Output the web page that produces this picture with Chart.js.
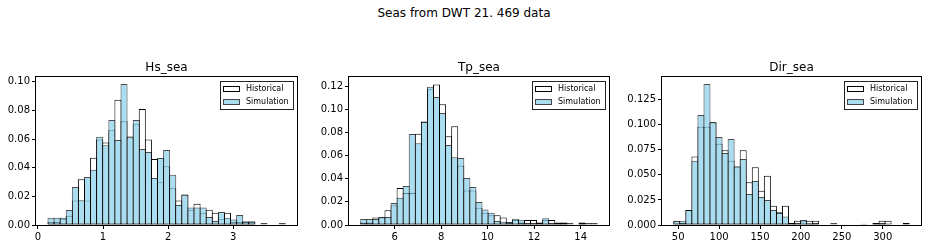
<!DOCTYPE html>
<html>
<head>
<meta charset="utf-8">
<script src="https://cdn.jsdelivr.net/npm/chart.js@4.4.0/dist/chart.umd.min.js"></script>
<style>
  html, body { margin: 0; padding: 0; background: #fff; overflow: hidden; }
  #wrap { position: relative; width: 928px; height: 249px; }
  #wrap canvas { position: absolute; top: 0; }
  #suptitle { position: absolute; left: 0; top: 6px; width: 928px; text-align: center;
              font: 12px "DejaVu Sans"; line-height: 14px; color: #000; }
</style>
</head>
<body>
<div id="wrap">
  <div id="suptitle">Seas from DWT 21. 469 data</div>
  <canvas id="c1" width="304" height="249" style="left:0px"></canvas>
  <canvas id="c2" width="303" height="249" style="left:313px"></canvas>
  <canvas id="c3" width="302" height="249" style="left:626px"></canvas>
</div>
<script>
// 39 bins per panel, first and last bin edge
const hsBins = [0.154, 3.800];
const tpBins = [4.543, 14.715];
const dirBins = [44.6, 332.4];

// relative frequencies
const hsHist = [0.0021,0.0021,0.0043,0.0064,0.0171,0.0320,0.0171,0.0469,0.0597,0.0576,
                0.0661,0.0874,0.0725,0.0618,0.0704,0.0810,0.0597,0.0460,0.0298,0.0410,
                0.0256,0.0171,0.0213,0.0107,0.0149,0.0085,0.0107,0.0085,0.0043,0.0085,
                0.0021,0.0021,0.0021,0.0021,0,0,0,0,0];
const hsSim = [0.0050,0.0050,0.0050,0.0105,0.0265,0.0172,0.0335,0.0386,0.0616,0.0556,
               0.0733,0.0593,0.0984,0.0612,0.0733,0.0530,0.0510,0.0328,0.0467,0.0523,
               0.0351,0.0140,0.0212,0.0123,0.0123,0.0123,0.0056,0.0028,0.0091,0.0050,
               0.0038,0.0070,0.0026,0.0026,0,0.0014,0,0,0.0014];

const tpHist = [0.0021,0.0021,0.0064,0.0064,0.0128,0.0171,0.0320,0.0277,0.0277,0.0789,
                0.0896,0.1173,0.1215,0.1045,0.0768,0.0853,0.0512,0.0298,0.0298,0.0149,
                0.0107,0.0085,0.0085,0.0064,0.0021,0.0043,0.0021,0.0043,0.0043,0.0021,
                0.0043,0.0043,0.0021,0.0021,0,0,0.0021,0,0];
const tpSim = [0.0052,0.0052,0.0052,0.0069,0.0069,0.0190,0.0235,0.0337,0.0787,0.0708,
               0.0890,0.1195,0.1108,0.0969,0.0692,0.0585,0.0580,0.0407,0.0329,0.0200,
               0.0133,0.0107,0.0035,0.0029,0.0026,0.0055,0.0046,0.0017,0.0017,0.0017,
               0.0058,0.0017,0.0017,0.0017,0.0017,0,0.0017,0.0017,0.0017];

const dirHist = [0.0043,0.0021,0.0149,0.0682,0.0981,0.0981,0.1023,0.0810,0.0746,0.0640,
                 0.0576,0.0746,0.0426,0.0576,0.0341,0.0490,0.0192,0.0128,0.0192,0.0021,
                 0.0043,0.0043,0.0043,0.0043,0,0,0,0,0,0,
                 0,0,0,0.0021,0.0043,0.0043,0,0,0.0021];
const dirSim = [0.0037,0.0043,0.0150,0.0642,0.1097,0.1406,0.1027,0.0878,0.0718,0.0858,
                0.0585,0.0658,0.0310,0.0439,0.0280,0.0250,0.0150,0.0120,0.0086,0.0013,
                0.0020,0.0050,0.0017,0.0020,0,0,0.0020,0,0,0,
                0,0.0013,0,0.0020,0.0020,0,0,0,0];

// axis limits and ticks
const hsX = [-0.03, 3.98], tpX = [4.04, 15.22], dirX = [30.2, 346.8];
const hsYMax = 0.1033, tpYMax = 0.128, dirYMax = 0.1476;
const hsXTicks = [0, 1, 2, 3];
const tpXTicks = [6, 8, 10, 12, 14];
const dirXTicks = [50, 100, 150, 200, 250, 300];
const hsYTicks = [0, 0.02, 0.04, 0.06, 0.08, 0.10];
const tpYTicks = [0, 0.02, 0.04, 0.06, 0.08, 0.10, 0.12];
const dirYTicks = [0, 0.025, 0.05, 0.075, 0.10, 0.125];

const simFill = 'rgba(135,206,235,0.7)';
const simEdge = 'rgba(0,0,0,0.7)';
const FONT = '"DejaVu Sans"';

Chart.defaults.font.family = FONT;
Chart.defaults.color = '#000';

function binCenters(range, n) {
  var w = (range[1] - range[0]) / n;
  var out = [];
  for (var i = 0; i < n; i++) out.push(range[0] + w * (i + 0.5));
  return out;
}

// spines, title and legend drawn the matplotlib way
const decorPlugin = {
  id: 'decor',
  afterDraw(chart) {
    const ctx = chart.ctx;
    const a = chart.chartArea;
    const o = chart.options.plugins.decor;
    ctx.save();
    ctx.strokeStyle = '#000';
    ctx.lineWidth = 1;
    ctx.strokeRect(a.left - 0.5, a.top - 0.5, a.right - a.left + 1, a.bottom - a.top + 1);

    ctx.fillStyle = '#000';
    ctx.font = '12px ' + FONT;
    ctx.textAlign = 'center';
    ctx.textBaseline = 'alphabetic';
    ctx.fillText(o.title, (a.left + a.right) / 2, a.top - 6);

    // legend
    ctx.font = '8px ' + FONT;
    const items = [
      {label: 'Historical', fill: '#fff', edge: '#000'},
      {label: 'Simulation', fill: simFill, edge: simEdge}
    ];
    let tw = 0;
    items.forEach(function (it) { tw = Math.max(tw, ctx.measureText(it.label).width); });
    const lw = Math.round(26 + tw + 4), lh = 28;
    const lx = Math.round(a.right - 4 - lw), ly = Math.round(a.top + 4);
    ctx.fillStyle = '#fff';
    ctx.fillRect(lx, ly, lw, lh);
    ctx.strokeStyle = '#222';
    ctx.strokeRect(lx + 0.5, ly + 0.5, lw, lh);
    ctx.textAlign = 'left';
    ctx.textBaseline = 'middle';
    items.forEach(function (it, i) {
      const cy = ly + 7 + i * 13.7;
      ctx.fillStyle = '#fff';
      ctx.fillRect(lx + 3.5, Math.round(cy - 2.5) + 0.5, 16, 5);
      ctx.fillStyle = it.fill;
      ctx.fillRect(lx + 3.5, Math.round(cy - 2.5) + 0.5, 16, 5);
      ctx.strokeStyle = it.edge;
      ctx.strokeRect(lx + 3.5, Math.round(cy - 2.5) + 0.5, 16, 5);
      ctx.fillStyle = '#000';
      ctx.fillText(it.label, lx + 26, cy + 0.5);
    });
    ctx.restore();
  }
};

function makeHist(id, title, bins, hist, sim, xr, xTicks, yMax, yTicks, dec) {
  const xs = binCenters(bins, hist.length);
  const histData = xs.map(function (x, i) { return {x: x, y: hist[i]}; });
  const simData = xs.map(function (x, i) { return {x: x, y: sim[i]}; });
  const common = {
    grouped: false,
    categoryPercentage: 1,
    barPercentage: 1.16,
    borderWidth: 1,
    borderSkipped: false
  };
  return new Chart(document.getElementById(id), {
    type: 'bar',
    data: {
      datasets: [
        Object.assign({label: 'Historical', data: histData, backgroundColor: '#fff',
                       borderColor: '#000', order: 1}, common),
        Object.assign({label: 'Simulation', data: simData, backgroundColor: simFill,
                       borderColor: simEdge, order: 0}, common)
      ]
    },
    options: {
      responsive: false,
      animation: false,
      events: [],
      layout: {padding: {left: 0, right: 7, top: 77, bottom: 0}},
      plugins: {
        legend: {display: false},
        tooltip: {enabled: false},
        decor: {title: title}
      },
      scales: {
        x: {
          type: 'linear',
          offset: false,
          min: xr[0], max: xr[1],
          afterBuildTicks: function (s) { s.ticks = xTicks.map(function (v) { return {value: v}; }); },
          afterFit: function (s) { s.height = 24; },
          grid: {display: true, drawOnChartArea: false, offset: false, tickLength: 4, color: '#000', lineWidth: 1},
          border: {display: false},
          ticks: {font: {size: 10}, color: '#000', padding: 2, maxRotation: 0,
                  callback: function (v) { return String(v); }}
        },
        y: {
          min: 0, max: yMax,
          afterBuildTicks: function (s) { s.ticks = yTicks.map(function (v) { return {value: v}; }); },
          afterFit: function (s) { s.width = 36; },
          grid: {display: true, drawOnChartArea: false, tickLength: 4, color: '#000', lineWidth: 1},
          border: {display: false},
          ticks: {font: {size: 10}, color: '#000', padding: 2,
                  callback: function (v) { return Number(v).toFixed(dec); }}
        }
      }
    },
    plugins: [decorPlugin]
  });
}

makeHist('c1', 'Hs_sea', hsBins, hsHist, hsSim, hsX, hsXTicks, hsYMax, hsYTicks, 2);
makeHist('c2', 'Tp_sea', tpBins, tpHist, tpSim, tpX, tpXTicks, tpYMax, tpYTicks, 2);
makeHist('c3', 'Dir_sea', dirBins, dirHist, dirSim, dirX, dirXTicks, dirYMax, dirYTicks, 3);
</script>
</body>
</html>
